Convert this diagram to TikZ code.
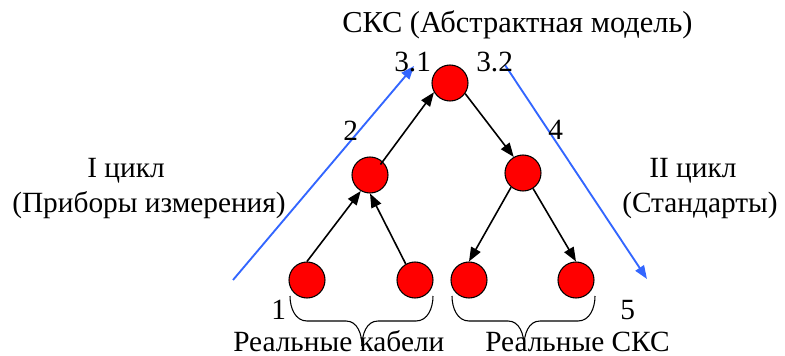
\documentclass[tikz,border=0pt]{standalone}
\usepackage{fontspec}
\setmainfont{Liberation Serif}
\usetikzlibrary{arrows.meta,calc}
\definecolor{cycblue}{RGB}{51,102,255}
\begin{document}
\begin{tikzpicture}[x=0.75pt,y=-0.75pt,
  vert/.style={circle,draw=black,fill=red,line width=0.8pt,minimum size=27pt,inner sep=0pt},
  edge/.style={line width=1.2pt,-{Triangle[length=10.5pt,width=8pt]}},
  cyc/.style={cycblue,line width=1.4pt,-{Triangle[length=10pt,width=7.5pt]}},
  lbl/.style={anchor=base west,inner sep=0pt,font=\fontsize{22pt}{26pt}\selectfont},
  brc/.style={line width=0.8pt}]
\useasboundingbox (0,0) rectangle (785,356);
% vertices
\node[vert] (top) at (450,83) {};
\node[vert] (ml) at (370,175) {};
\node[vert] (mr) at (523,173) {};
\node[vert] (b1) at (307,280) {};
\node[vert] (b2) at (415,280) {};
\node[vert] (b3) at (469,280) {};
\node[vert] (b4) at (576,280) {};
% edges
\draw[edge] (b1.90) -- (ml.-120);
\draw[edge] (b2.120) -- (ml.-90);
\draw[edge] ($(ml.center)!0.8!(ml.45)$) -- (top.-150);
\draw[edge] (top.-35) -- (mr.120);
\draw[edge] (mr.-130) -- (b3.90);
\draw[edge] (mr.-57) -- (b4.90);
% cycle arrows
\coordinate (c1s) at (233,280);
\coordinate (c1e) at (414,66);
\coordinate (c2s) at (505,65);
\coordinate (c2e) at (647,279);
\draw[cyc] (c1s) -- (c1e);
\draw[cyc] (c2s) -- (c2e);
% texts
\node[lbl,font=\fontsize{22.8pt}{26pt}\selectfont] (title) at (342,33) {СКС (Абстрактная модель)};
\node[lbl] (t31) at (394,72) {3.1};
\node[lbl] (t32) at (476,72) {3.2};
\node[lbl] (t2) at (343,141) {2};
\node[lbl] (t4) at (548,140) {4};
\node[lbl] (cyc1a) at (87,177) {I цикл};
\node[lbl] (cyc1b) at (12,212) {(Приборы измерения)};
\node[lbl] (cyc2a) at (649,177) {II цикл};
\node[lbl] (cyc2b) at (622,212) {(Стандарты)};
\node[lbl] (t1) at (271,319) {1};
\node[lbl] (t5) at (620,319) {5};
\node[lbl,text depth=0pt] (rk) at (233,351) {Реальные кабели};
\node[lbl,text depth=0pt] (rs) at (485,351) {Реальные СКС};
% braces
\draw[brc] (290,296) to[out=-90,in=180] (307,321) -- (346,321) to[out=0,in=90] (362,346);
\draw[brc] (433,296) to[out=-90,in=0] (416,321) -- (378,321) to[out=180,in=90] (362,346);
\draw[brc] (452,296) to[out=-90,in=180] (469,321) -- (508,321) to[out=0,in=90] (524,346);
\draw[brc] (595,296) to[out=-90,in=0] (578,321) -- (540,321) to[out=180,in=90] (524,346);
\end{tikzpicture}
\end{document}
